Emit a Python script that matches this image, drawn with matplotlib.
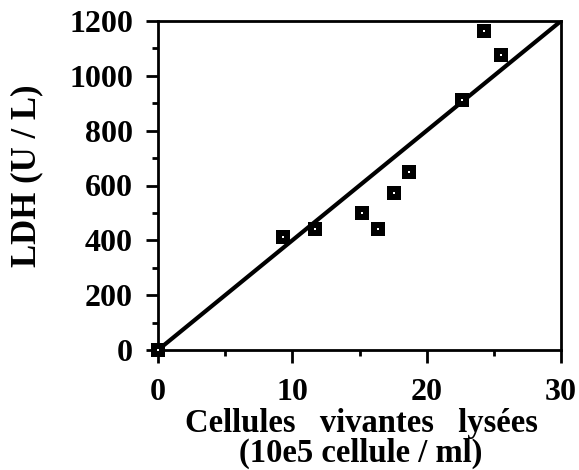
import matplotlib.pyplot as plt
import numpy as np

plt.rcParams['font.family'] = 'Liberation Serif'
plt.rcParams['font.weight'] = 'bold'

# cellules lysees (10e5 / ml) et LDH mesuree (U/L)
cells = [0, 9.3, 11.7, 15.2, 16.4, 17.6, 18.7, 22.6, 24.3, 25.5]
ldh = [0, 411, 440, 498, 440, 571, 651, 912, 1164, 1077]

# droite de reference
fit_x = [0, 30]
fit_y = [0, 1200]

fig = plt.figure(figsize=(5.79, 4.70), dpi=100)
ax = fig.add_axes([158 / 579, 1 - 350 / 470, 403 / 579, 329 / 470])

ax.plot(fit_x, fit_y, color='black', lw=3.0, solid_capstyle='butt')
ax.plot(cells, ldh, 's', color='black', ms=10, mew=0, clip_on=False, zorder=5)
ax.plot(cells, ldh, 's', color='white', ms=1.8, mew=0, clip_on=False, zorder=6)

ax.set_xlim(0, 30)
ax.set_ylim(0, 1200)
ax.set_xticks([0, 10, 20, 30])
ax.set_xticks([5, 15, 25], minor=True)
ax.set_yticks(np.arange(0, 1201, 200))
ax.set_yticks(np.arange(100, 1200, 200), minor=True)

for s in ax.spines.values():
    s.set_linewidth(2.0)

ax.tick_params(axis='x', which='major', direction='out', length=9, width=2,
               pad=11, labelsize=23)
ax.tick_params(axis='x', which='minor', direction='out', length=4.5, width=2)
ax.tick_params(axis='y', which='major', direction='out', length=9, width=2,
               pad=9, labelsize=23)
ax.tick_params(axis='y', which='minor', direction='out', length=4.5, width=2)

fig.text(27 / 579, 1 - 176 / 470, 'LDH (U / L)', rotation=90,
         ha='center', va='center', fontsize=25, fontweight='bold')
fig.text(361 / 579, 1 - 408 / 470,
         'Cellules   vivantes   lysées\n(10e5 cellule / ml)',
         ha='center', va='top', multialignment='center', linespacing=0.95,
         fontsize=23.5, fontweight='bold')

fig.savefig('out.png', dpi=100)
